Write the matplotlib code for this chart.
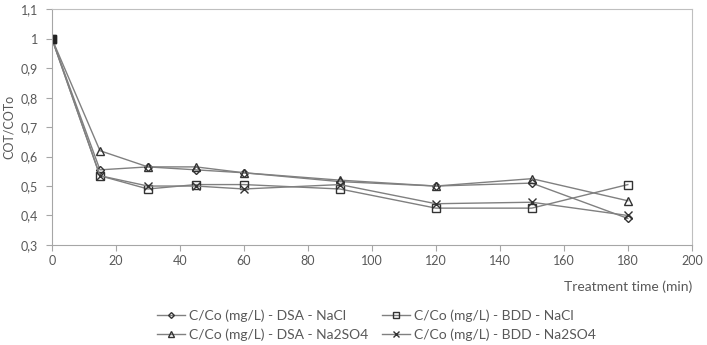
import matplotlib
matplotlib.use("Agg")
import matplotlib.pyplot as plt

time_min = [0, 15, 30, 45, 60, 90, 120, 150, 180]
dsa_nacl = [1.0, 0.555, 0.565, 0.555, 0.545, 0.515, 0.50, 0.51, 0.39]
bdd_nacl = [1.0, 0.535, 0.49, 0.505, 0.505, 0.49, 0.425, 0.425, 0.505]
dsa_na2so4 = [1.0, 0.62, 0.565, 0.565, 0.545, 0.52, 0.50, 0.525, 0.45]
bdd_na2so4 = [1.0, 0.535, 0.50, 0.50, 0.49, 0.505, 0.44, 0.445, 0.40]

labels = ["C/Co (mg/L) - DSA - NaCl", "C/Co (mg/L) - BDD - NaCl",
          "C/Co (mg/L) - DSA - Na2SO4", "C/Co (mg/L) - BDD - Na2SO4"]
y_ticks = [0.3, 0.4, 0.5, 0.6, 0.7, 0.8, 0.9, 1.0, 1.1]
y_tick_labels = ["0,3", "0,4", "0,5", "0,6", "0,7", "0,8", "0,9", "1", "1,1"]
x_ticks = [0, 20, 40, 60, 80, 100, 120, 140, 160, 180, 200]

plt.rcParams['font.family'] = ['Lato', 'DejaVu Sans']
txt = '#595959'
line_c = '#808080'

fig = plt.figure(figsize=(7.07, 3.45), dpi=100)
ax = fig.add_axes([0.0735, 0.29, 0.905, 0.683])

series = [dsa_nacl, bdd_nacl, dsa_na2so4, bdd_na2so4]
markers = ['D', 's', '^', 'x']
sizes = [4.2, 6, 6, 6]
handles = []
for vals, m, ms, lab in zip(series, markers, sizes, labels):
    h, = ax.plot(time_min, vals, color=line_c, linewidth=1.0, marker=m, markersize=ms,
                 markerfacecolor='none', markeredgecolor='#333333', markeredgewidth=1.0,
                 label=lab)
    handles.append(h)
# start point looks solid black in the original (all markers stacked)
ax.plot([time_min[0]], [dsa_nacl[0]], marker='s', markersize=6, color='#222222', linestyle='none')

ax.set_xlim(0, 200)
ax.set_ylim(0.3, 1.1)
ax.set_xticks(x_ticks)
ax.set_yticks(y_ticks)
ax.set_yticklabels(y_tick_labels)
ax.tick_params(colors='#a6a6a6', labelcolor=txt, labelsize=9, length=4, width=0.8)
ax.tick_params(axis='y', pad=6)
for s in ax.spines.values():
    s.set_color('#bfbfbf')
    s.set_linewidth(0.8)
ax.spines['left'].set_color('#a6a6a6')
ax.spines['bottom'].set_color('#a6a6a6')

ax.set_ylabel("COT/COTo", color=txt, fontsize=9)
ax.yaxis.set_label_coords(-0.058, 0.5)
fig.text(0.979, 0.17, "Treatment time (min)", color=txt, fontsize=10, ha='right', va='center')

# matplotlib fills legend column-wise, so reorder to get rows DSA/BDD
order = [0, 2, 1, 3]
leg = fig.legend([handles[i] for i in order], [labels[i] for i in order],
                 loc='center left', bbox_to_anchor=(0.212, 0.058), ncol=2, frameon=False,
                 fontsize=10, handlelength=2.0, columnspacing=1.0, labelspacing=0.5,
                 handletextpad=0.3, markerscale=0.7, borderpad=0)
for t in leg.get_texts():
    t.set_color(txt)

fig.savefig("out.png", dpi=100)
